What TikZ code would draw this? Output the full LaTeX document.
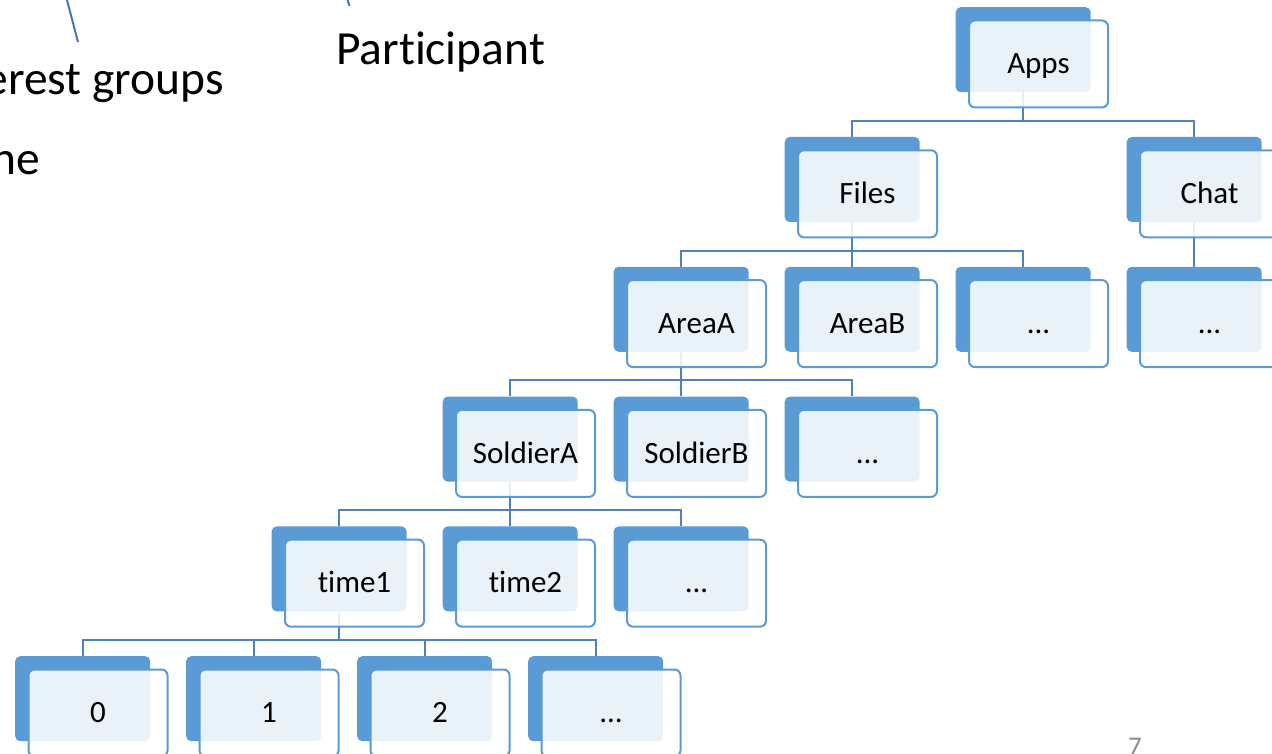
\documentclass[tikz,border=0pt]{standalone}
\usepackage{fontspec}
\setmainfont{Carlito}[Ligatures=NoCommon]
\usetikzlibrary{calc}
\definecolor{accent}{HTML}{5B9BD5}
\definecolor{linkblue}{HTML}{4F81BD}
\definecolor{callout}{HTML}{4472C4}
\definecolor{pagegray}{HTML}{8C8C8C}
\pgfdeclarelayer{links}
\pgfsetlayers{links,main}

% one tree entry: solid back tab plus translucent front card with the label
\newcommand\orgitem[4]{% name, column, row, label
  \node[backbox] (#1B) at ({15+171*#2},{7+129.8*#3}) {};
  \node[frontbox] (#1) at ($(#1B.north west)+(12.5,12.5)$) {#4};
}

\begin{document}
\begin{tikzpicture}[x=1pt,y=-1pt,
  backbox/.style={fill=accent, rounded corners=5pt, minimum width=135pt,
    minimum height=85pt, inner sep=0pt, anchor=north west},
  frontbox/.style={draw=accent, line width=2pt, fill=white, fill opacity=0.87,
    text opacity=1, rounded corners=6pt, minimum width=139pt, minimum height=87pt,
    inner sep=0pt, anchor=north west, font=\fontsize{31}{37}\selectfont,
    text height=19.5pt, text depth=0pt},
  link/.style={draw=linkblue, line width=2pt},
  bigtext/.style={inner sep=0pt, font=\fontsize{47.5}{57}\selectfont},
  leader/.style={draw=callout, line width=2pt}]
\useasboundingbox (0,0) rectangle (1272,754);
\clip (0,0) rectangle (1272,754);

% text fragments and leader lines at the upper left
\node[bigtext, anchor=base east] (groups) at (224,95) {erest groups};
\node[bigtext, anchor=base east] (ne) at (40,175) {ne};
\node[bigtext, anchor=base west] (participant) at (336,65) {Participant};
\coordinate (l1a) at (67,0);
\coordinate (l1b) at (78,42);
\coordinate (l2a) at (347.5,0);
\coordinate (l2b) at (349.5,6);
\draw[leader] (l1a) -- (l1b);
\draw[leader] (l2a) -- (l2b);

% tree entries
\orgitem{Apps}{5.5}{0}{Apps}
\orgitem{Files}{4.5}{1}{Files}
\orgitem{Chat}{6.5}{1}{Chat}
\orgitem{AreaA}{3.5}{2}{AreaA}
\orgitem{AreaB}{4.5}{2}{AreaB}
\orgitem{dotsA}{5.5}{2}{...}
\orgitem{dotsB}{6.5}{2}{...}
\orgitem{SoldierA}{2.5}{3}{SoldierA}
\orgitem{SoldierB}{3.5}{3}{SoldierB}
\orgitem{dotsC}{4.5}{3}{...}
\orgitem{timeA}{1.5}{4}{time1}
\orgitem{timeB}{2.5}{4}{time2}
\orgitem{dotsD}{3.5}{4}{...}
\orgitem{nZero}{0}{5}{0}
\orgitem{nOne}{1}{5}{1}
\orgitem{nTwo}{2}{5}{2}
\orgitem{dotsE}{3}{5}{...}

% elbow connectors behind the cards
\begin{pgfonlayer}{links}
\foreach \p/\c in {Apps/Files, Apps/Chat,
    Files/AreaA, Files/AreaB, Files/dotsA, Chat/dotsB,
    AreaA/SoldierA, AreaA/SoldierB, AreaA/dotsC,
    SoldierA/timeA, SoldierA/timeB, SoldierA/dotsD,
    timeA/nZero, timeA/nOne, timeA/nTwo, timeA/dotsE}
  \draw[link] (\p B.south) |- ($(\c B.north)+(0,-16)$) -- (\c B.north);
\end{pgfonlayer}

% slide number
\node[inner sep=0pt, anchor=base west, text=pagegray,
  font=\fontsize{27}{32}\selectfont] (pageno) at (1128,755) {7};
\end{tikzpicture}
\end{document}
